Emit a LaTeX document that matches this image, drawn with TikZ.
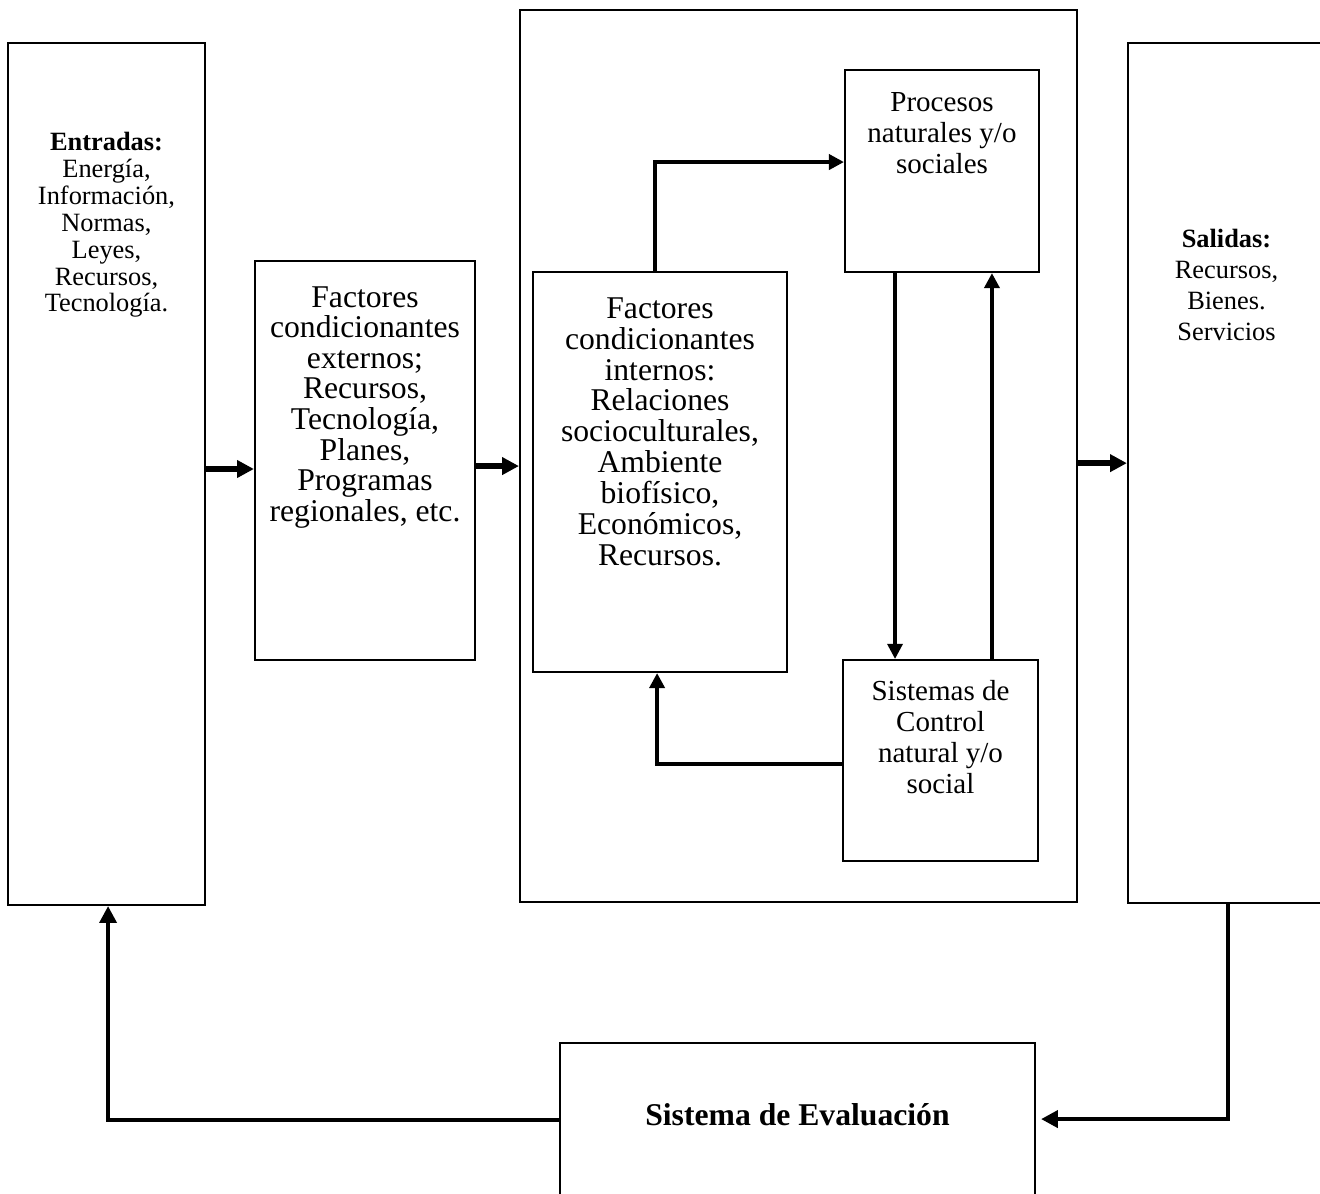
\documentclass[tikz,border=0pt]{standalone}
\usepackage{fontspec}
\setmainfont{Liberation Serif}
\usepackage{tikz}
\usetikzlibrary{arrows.meta, positioning}

\begin{document}
\begin{tikzpicture}[
    x=0.379pt, y=-0.379pt,
    box/.style={rectangle, draw, line width=0.8pt, minimum width=#1, inner sep=0pt},
    txt/.style={align=center, inner sep=0pt, font=\fontsize{12}{11.6}\selectfont},
    mainarrow/.style={line width=2.3pt, -{Triangle[length=6.4pt, width=6.4pt]}},
    inarrow/.style={line width=1.4pt, -{Triangle[length=5.7pt, width=5.7pt]}},
    evalarrow/.style={line width=1.7pt, -{Triangle[length=6.4pt, width=6.4pt]}}
]
\clip (0,0) rectangle (1320,1193);
\fill[white] (0,0) rectangle (1320,1193);
% boxes
\node[box=74.7pt, minimum height=326.7pt] (ent) at (106.5,474) {};
\node[box=83.4pt, minimum height=151.2pt] (fext) at (365,460.5) {};
\node[box=211.1pt, minimum height=338.1pt] (sys) at (798.5,456) {};
\node[box=96.3pt, minimum height=151.6pt] (fint) at (660,472) {};
\node[box=73.5pt, minimum height=76.6pt] (proc) at (942,171) {};
\node[box=73.9pt, minimum height=76.2pt] (ctrl) at (940.5,760.5) {};
\node[box=74.7pt, minimum height=325.9pt] (sal) at (1226.5,473) {};
\node[box=180pt, minimum height=78.5pt] (eval) at (797.5,1146.5) {};
% texts
\node[txt, font=\fontsize{10}{10.2}\selectfont, below=34pt of ent.north] (tent) {\textbf{Entradas:}\\Energía,\\Información,\\Normas,\\Leyes,\\Recursos,\\Tecnología.};
\node[txt, below=9.8pt of fext.north] (tfext) {Factores\\condicionantes\\externos;\\Recursos,\\Tecnología,\\Planes,\\Programas\\regionales, etc.};
\node[txt, font=\fontsize{12}{11.7}\selectfont, below=9.9pt of fint.north] (tfint) {Factores\\condicionantes\\internos:\\Relaciones\\socioculturales,\\Ambiente\\biofísico,\\Económicos,\\Recursos.};
\node[txt, font=\fontsize{11}{11.75}\selectfont, below=8.6pt of proc.north] (tproc) {Procesos\\naturales y/o\\sociales};
\node[txt, font=\fontsize{11}{11.75}\selectfont, below=7.9pt of ctrl.north] (tctrl) {Sistemas de\\Control\\natural y/o\\social};
\node[txt, font=\fontsize{10}{11.75}\selectfont, below=70.8pt of sal.north] (tsal) {\textbf{Salidas:}\\Recursos,\\Bienes.\\Servicios};
\node[txt, anchor=base, font=\fontsize{12}{11.8}\selectfont\bfseries] (teval) at ([yshift=8.1pt]eval.center) {Sistema de Evaluación};
% connectors
\draw[mainarrow] ([yshift=1.9pt]ent.east) -- ([yshift=1.9pt]ent.east -| fext.west);
\draw[mainarrow] ([yshift=-2.1pt]fext.east) -- ([yshift=-2.1pt]fext.east -| sys.west);
\draw[mainarrow] ([yshift=-2.7pt]sys.east) -- ([yshift=-2.7pt]sys.east -| sal.west);
\draw[inarrow] ([xshift=-1.9pt]fint.north) |- ([yshift=3.4pt]proc.west);
\draw[inarrow, line width=1.2pt] ([xshift=-17.8pt]proc.south) -- ([xshift=-17.8pt]proc.south |- ctrl.north);
\draw[inarrow] ([xshift=19.5pt]ctrl.north) -- ([xshift=19.5pt]ctrl.north |- proc.south);
\draw[inarrow] ([yshift=-1.3pt]ctrl.west) -| ([xshift=-1.1pt]fint.south);
\draw[evalarrow, shorten >=1.9pt] ([xshift=0.6pt]sal.south) |- ([yshift=10.4pt]eval.east);
\draw[evalarrow, line width=1.5pt] ([yshift=10pt]eval.west) -| ([xshift=0.6pt]ent.south);
\end{tikzpicture}
\end{document}
